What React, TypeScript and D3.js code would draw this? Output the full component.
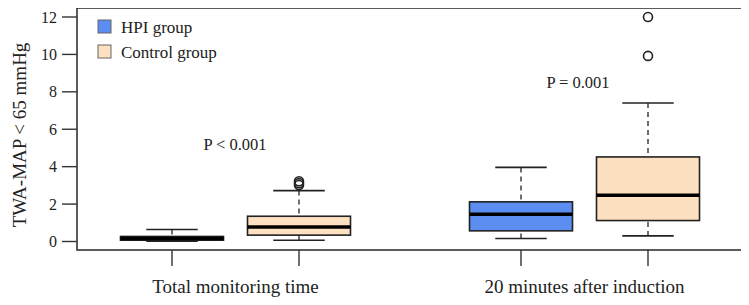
import { useEffect, useRef } from "react";
import * as d3 from "d3";

// box stats: [lowerWhisker, q1, median, q3, upperWhisker]
const categories = ["Total monitoring time", "20 minutes after induction"];
const groups = ["HPI group", "Control group"];
const colors = ["#5b8ef0", "#fde0c0"];

const hpiStats = [
  [0.02, 0.07, 0.16, 0.27, 0.64],
  [0.16, 0.57, 1.46, 2.12, 3.96],
];
const controlStats = [
  [0.07, 0.34, 0.78, 1.35, 2.72],
  [0.3, 1.12, 2.47, 4.52, 7.4],
];
const hpiOutliers: number[][] = [[], []];
const controlOutliers = [
  [3.02, 3.12, 3.22],
  [9.92, 12.0],
];
const pLabels = ["P < 0.001", "P = 0.001"];
const pValuesY = [4.9, 8.2];
const yTicks = [0, 2, 4, 6, 8, 10, 12];

export default function App() {
  const ref = useRef<SVGSVGElement>(null);

  useEffect(() => {
    if (!ref.current) return;
    const svg = d3.select(ref.current);
    svg.selectAll("*").remove();

    const left = 77, right = 743, top = 8, bottom = 250;
    const font = "'Liberation Serif', 'Times New Roman', serif";

    const y = d3.scaleLinear().domain([0, 12]).range([241.5, 17]);
    const xCat = d3.scalePoint().domain(categories).range([235.5, 584.5]);
    const xGrp = d3.scalePoint().domain(groups).range([-63.5, 63.5]);
    const boxW = 103;

    // frame
    svg.append("rect")
      .attr("x", left).attr("y", top)
      .attr("width", right - left).attr("height", bottom - top)
      .attr("fill", "none").attr("stroke", "#333").attr("stroke-width", 1.6);

    // y axis
    const ya = svg.append("g");
    yTicks.forEach((t) => {
      ya.append("line").attr("x1", 62).attr("x2", left)
        .attr("y1", y(t)).attr("y2", y(t))
        .attr("stroke", "#333").attr("stroke-width", 1.4);
      ya.append("text").attr("x", 57).attr("y", y(t)).attr("dy", "0.35em")
        .attr("text-anchor", "end").style("font-family", font)
        .style("font-size", "16px").attr("fill", "#222").text(t);
    });
    svg.append("text")
      .attr("transform", `translate(26,${135}) rotate(-90)`)
      .attr("text-anchor", "middle").style("font-family", font)
      .style("font-size", "19px").attr("fill", "#222")
      .text("TWA-MAP < 65 mmHg");

    const all = [hpiStats, controlStats];
    const outs = [hpiOutliers, controlOutliers];

    categories.forEach((cat, ci) => {
      // category label
      svg.append("text").attr("x", xCat(cat)!).attr("y", 293)
        .attr("text-anchor", "middle").style("font-family", font)
        .style("font-size", "19px").attr("fill", "#222").text(cat);

      groups.forEach((grp, gi) => {
        const cx = xCat(cat)! + xGrp(grp)!;
        const [lo, q1, med, q3, hi] = all[gi][ci];
        const g = svg.append("g");

        // x tick
        g.append("line").attr("x1", cx).attr("x2", cx)
          .attr("y1", bottom).attr("y2", 266)
          .attr("stroke", "#333").attr("stroke-width", 1.4);

        // whiskers
        [[hi, q3], [lo, q1]].forEach(([a, b]) => {
          g.append("line").attr("x1", cx).attr("x2", cx)
            .attr("y1", y(a)).attr("y2", y(b))
            .attr("stroke", "#333").attr("stroke-width", 1.4)
            .attr("stroke-dasharray", "5,4");
          g.append("line").attr("x1", cx - boxW / 4).attr("x2", cx + boxW / 4)
            .attr("y1", y(a)).attr("y2", y(a))
            .attr("stroke", "#222").attr("stroke-width", 1.6);
        });

        g.append("rect")
          .attr("x", cx - boxW / 2).attr("y", y(q3))
          .attr("width", boxW).attr("height", Math.max(y(q1) - y(q3), 1))
          .attr("fill", colors[gi]).attr("stroke", "#222").attr("stroke-width", 1.6);

        g.append("line").attr("x1", cx - boxW / 2).attr("x2", cx + boxW / 2)
          .attr("y1", y(med)).attr("y2", y(med))
          .attr("stroke", "#000").attr("stroke-width", 3.5);

        outs[gi][ci].forEach((v) => {
          g.append("circle").attr("cx", cx).attr("cy", y(v)).attr("r", 4.5)
            .attr("fill", "none").attr("stroke", "#222").attr("stroke-width", 1.6);
        });
      });

      svg.append("text")
        .attr("x", ci === 0 ? 235 : 578).attr("y", y(pValuesY[ci]))
        .attr("text-anchor", "middle").style("font-family", font)
        .style("font-size", "16.5px").attr("fill", "#222").text(pLabels[ci]);
    });

    // legend
    groups.forEach((grp, i) => {
      const ly = 20 + i * 25;
      svg.append("rect").attr("x", 98).attr("y", ly).attr("width", 13).attr("height", 13)
        .attr("fill", colors[i]).attr("stroke", "#666").attr("stroke-width", 1);
      svg.append("text").attr("x", 121).attr("y", ly + 7).attr("dy", "0.35em")
        .style("font-family", font).style("font-size", "17px").attr("fill", "#222")
        .text(grp);
    });
  }, []);

  return (
    <div style={{ margin: -8 }}>
      <svg ref={ref} width={749} height={305} style={{ display: "block", background: "#fff" }} />
    </div>
  );
}
